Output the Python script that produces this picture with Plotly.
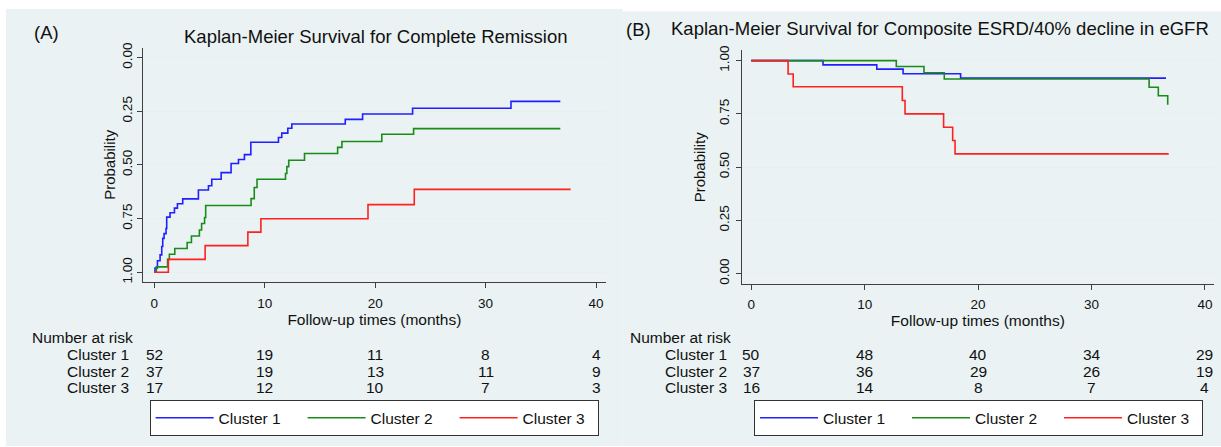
import plotly.graph_objects as go

W, H = 1221, 447
FONT = "Liberation Sans, Arial, sans-serif"

# ---------------- data ----------------
times_ticks = [0, 10, 20, 30, 40]
prob_ticks = [0, 0.25, 0.5, 0.75, 1.0]
prob_labels = ["0.00", "0.25", "0.50", "0.75", "1.00"]
clusters = ["Cluster 1", "Cluster 2", "Cluster 3"]
colors = ["#1f1fff", "#1a8c1a", "#ff2020"]

# Panel A: complete remission (survival, reversed axis)
t1A = [0, 0.06, 0.28, 0.52, 0.67, 0.76, 0.88, 1.06, 1.12, 1.42, 1.82, 2.09, 2.57, 3.99, 4.9, 5.2,
       6.05, 6.95, 7.62, 8.16, 8.74, 11.24, 11.54, 12.09, 12.45, 17.29, 18.86, 23.39, 32.3, 36.77]
s1A = [1.0, 0.98, 0.946, 0.919, 0.88, 0.842, 0.82, 0.796, 0.743, 0.723, 0.701, 0.681, 0.658, 0.617,
       0.597, 0.567, 0.536, 0.493, 0.475, 0.452, 0.394, 0.372, 0.352, 0.329, 0.309, 0.288, 0.263,
       0.236, 0.204, 0.204]
t2A = [0, 0.18, 1.2, 1.36, 1.85, 2.97, 3.36, 4.08, 4.28, 4.55, 4.65, 8.76, 9.05, 9.3, 11.88, 12.0,
       12.17, 13.6, 16.6, 16.99, 20.6, 23.48, 36.77]
s2A = [1.0, 0.975, 0.94, 0.916, 0.889, 0.861, 0.831, 0.803, 0.773, 0.745, 0.689, 0.657, 0.605,
       0.567, 0.54, 0.508, 0.478, 0.447, 0.418, 0.391, 0.357, 0.331, 0.331]
t3A = [0, 1.27, 4.6, 8.47, 9.65, 19.35, 23.54, 37.7]
s3A = [1.0, 0.940, 0.876, 0.813, 0.751, 0.685, 0.614, 0.614]

# Panel B: composite ESRD / 40% decline in eGFR
t1B = [0, 6.33, 11.07, 13.39, 18.46, 36.57]
s1B = [1.0, 0.980, 0.960, 0.938, 0.918, 0.918]
t2B = [0, 12.79, 15.23, 17.02, 35.08, 35.89, 36.72]
s2B = [1.0, 0.972, 0.943, 0.914, 0.875, 0.835, 0.793]
t3B = [0, 3.25, 3.7, 13.32, 13.56, 16.96, 17.76, 17.97, 36.81]
s3B = [1.0, 0.937, 0.877, 0.813, 0.750, 0.687, 0.625, 0.562, 0.562]

riskA = [[52, 19, 11, 8, 4], [37, 19, 13, 11, 9], [17, 12, 10, 7, 3]]
riskB = [[50, 48, 40, 34, 29], [37, 36, 29, 26, 19], [16, 14, 8, 7, 4]]

titleA = "Kaplan-Meier Survival for Complete Remission"
titleB = "Kaplan-Meier Survival for Composite ESRD/40% decline in eGFR"
xtitle = "Follow-up times (months)"
ytitle = "Probability"

# ---------------- helpers ----------------
def px(x):
    return x / W

def py(y):
    return 1 - y / H

fig = go.Figure()

seriesA = [(t1A, s1A), (t2A, s2A), (t3A, s3A)]
seriesB = [(t1B, s1B), (t2B, s2B), (t3B, s3B)]
for i, (t, s) in enumerate(seriesA):
    fig.add_trace(go.Scatter(x=t, y=s, mode="lines", line=dict(color=colors[i], width=1.6, shape="hv"),
                             name=clusters[i], xaxis="x", yaxis="y", legend="legend",
                             legendwidth=(79 if i < 2 else 70)))
for i, (t, s) in enumerate(seriesB):
    fig.add_trace(go.Scatter(x=t, y=s, mode="lines", line=dict(color=colors[i], width=1.6, shape="hv"),
                             name=clusters[i], xaxis="x2", yaxis="y2", legend="legend2",
                             legendwidth=(79 if i < 2 else 70)))

axis_common = dict(showline=True, linecolor="#404040", linewidth=1, ticks="outside", ticklen=5,
                   tickcolor="#404040", tickfont=dict(size=13.5, color="#111", family=FONT),
                   zeroline=False)

fig.update_layout(
    width=W, height=H,
    margin=dict(l=0, r=0, t=0, b=0),
    paper_bgcolor="white", plot_bgcolor="white",
    font=dict(family=FONT, color="#111"),
    xaxis=dict(domain=[px(143.3), px(605.5)], range=[-1.0, 40.86], tickvals=times_ticks,
               showgrid=False, anchor="y", ticklabelstandoff=4,
               title=dict(text=xtitle, font=dict(size=15.5), standoff=1), **axis_common),
    yaxis=dict(domain=[py(280.7), py(43.3)], range=[1.045, -0.046], tickvals=prob_ticks,
               ticktext=prob_labels, tickangle=-90, showgrid=True, gridcolor="#e6eff1", gridwidth=1,
               anchor="x", ticklabelstandoff=0,
               title=dict(text=ytitle, font=dict(size=15), standoff=0), **axis_common),
    xaxis2=dict(domain=[px(741.7), px(1214)], range=[-0.84, 40.8], tickvals=times_ticks,
                showgrid=False, anchor="y2", ticklabelstandoff=3,
                title=dict(text=xtitle, font=dict(size=15.5), standoff=1), **axis_common),
    yaxis2=dict(domain=[py(283), py(46)], range=[-0.0495, 1.048], tickvals=prob_ticks,
                ticktext=prob_labels, tickangle=-90, showgrid=True, gridcolor="#e6eff1", gridwidth=1,
                anchor="x2", ticklabelstandoff=1,
                title=dict(text=ytitle, font=dict(size=15), standoff=8), **axis_common),
    legend=dict(x=px(149.6), y=py(400.5), xanchor="left", yanchor="top", orientation="h",
                bgcolor="white", bordercolor="#333", borderwidth=1, itemwidth=58,
                font=dict(size=15.5, family=FONT, color="#111"), tracegroupgap=0),
    legend2=dict(x=px(754), y=py(400.5), xanchor="left", yanchor="top", orientation="h",
                 bgcolor="white", bordercolor="#333", borderwidth=1, itemwidth=58,
                 font=dict(size=15.5, family=FONT, color="#111"), tracegroupgap=0),
)

# panel backgrounds
fig.add_shape(type="rect", xref="paper", yref="paper", x0=px(6), x1=px(622.7), y0=0, y1=py(4),
              fillcolor="#eaf2f3", line=dict(width=0), layer="below")
fig.add_shape(type="rect", xref="paper", yref="paper", x0=px(622.7), x1=1, y0=0, y1=py(6.7),
              fillcolor="#eaf2f3", line=dict(width=0), layer="below")

ann = []
ann.append(dict(text="(A)", x=px(46.7), y=py(28), xref="paper", yref="paper", showarrow=False,
                font=dict(size=18.5), xanchor="center", yanchor="middle"))
ann.append(dict(text=titleA, x=px(376), y=py(31.5), xref="paper", yref="paper", showarrow=False,
                font=dict(size=18.5), xanchor="center", yanchor="middle"))
ann.append(dict(text="(B)", x=px(638), y=py(24.5), xref="paper", yref="paper", showarrow=False,
                font=dict(size=18.5), xanchor="center", yanchor="middle"))
ann.append(dict(text=titleB, x=px(669), y=py(24), xref="paper", yref="paper", showarrow=False,
                font=dict(size=18.5), xanchor="left", yanchor="middle"))

row_y = [354.5, 371, 387.5]
for (xr, risk, nx, lx) in [("x", riskA, 29.5, 131), ("x2", riskB, 627.7, 728.5)]:
    ann.append(dict(text="Number at risk", x=px(nx), y=py(337.5), xref="paper", yref="paper",
                    showarrow=False, font=dict(size=15.5), xanchor="left", yanchor="middle"))
    for r in range(3):
        ann.append(dict(text=clusters[r], x=px(lx), y=py(row_y[r]), xref="paper", yref="paper",
                        showarrow=False, font=dict(size=15.5), xanchor="right", yanchor="middle"))
        for k, tv in enumerate(times_ticks):
            ann.append(dict(text=str(risk[r][k]), x=tv, y=py(row_y[r]), xref=xr, yref="paper",
                            showarrow=False, font=dict(size=15.5), xanchor="center",
                            yanchor="middle"))
fig.update_layout(annotations=ann)

fig.write_html("out.html")
